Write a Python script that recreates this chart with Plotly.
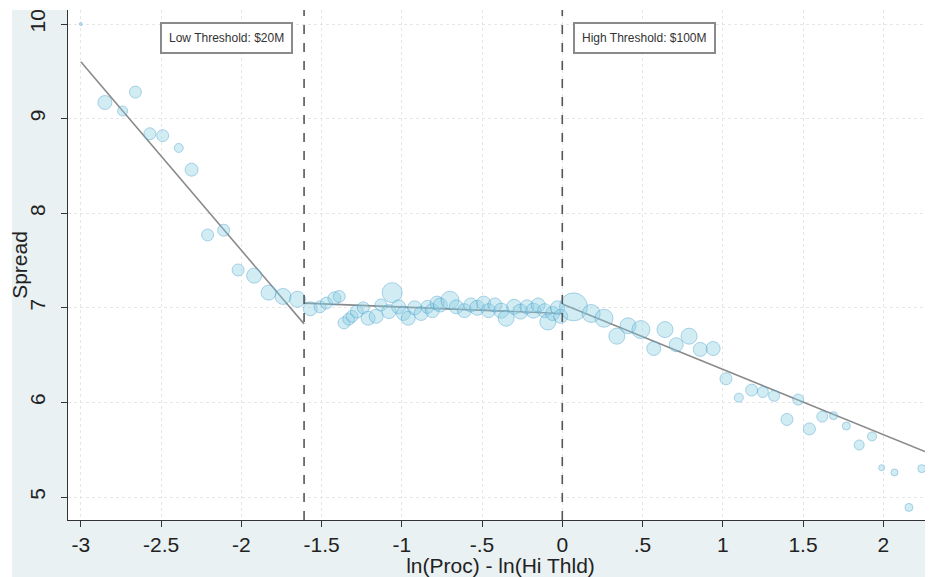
import plotly.graph_objects as go

# ---- data ----
low_x = [-3.00, -2.85, -2.74, -2.66, -2.57, -2.49, -2.39, -2.31, -2.21, -2.11,
         -2.02, -1.92, -1.83, -1.74, -1.65]
low_y = [10.00, 9.17, 9.08, 9.28, 8.84, 8.82, 8.69, 8.46, 7.77, 7.82,
         7.40, 7.34, 7.16, 7.12, 7.09]
low_w = [3, 14, 10, 12, 12, 12, 9, 13, 12, 12, 12, 15, 15, 16, 16]

mid_x = [-1.57, -1.51, -1.47, -1.42, -1.39, -1.36, -1.33, -1.31, -1.28, -1.24,
         -1.21, -1.16, -1.13, -1.06, -1.08, -1.02, -0.99, -0.96, -0.92, -0.88,
         -0.84, -0.81, -0.78, -0.76, -0.70, -0.66, -0.61, -0.57, -0.53, -0.49,
         -0.46, -0.42, -0.38, -0.35, -0.30, -0.26, -0.22, -0.18, -0.15, -0.11,
         -0.09, -0.06, -0.03, -0.01]
mid_y = [6.99, 7.01, 7.05, 7.10, 7.12, 6.84, 6.88, 6.91, 6.96, 7.00,
         6.89, 6.91, 7.03, 7.16, 6.96, 7.01, 6.94, 6.89, 7.00, 6.94,
         7.01, 6.97, 7.05, 7.03, 7.08, 7.01, 6.97, 7.03, 7.00, 7.05,
         6.97, 7.03, 6.97, 6.89, 7.01, 6.96, 7.01, 6.97, 7.03, 6.97,
         6.85, 6.94, 7.00, 6.91]
mid_w = [14, 12, 12, 13, 12, 12, 12, 12, 13, 12,
         14, 14, 12, 20, 14, 14, 14, 14, 14, 14,
         13, 14, 14, 14, 18, 14, 14, 14, 15, 14,
         14, 14, 15, 16, 15, 15, 14, 15, 14, 14,
         16, 14, 14, 14]

high_x = [0.07, 0.18, 0.26, 0.34, 0.41, 0.49, 0.57, 0.64, 0.71, 0.79,
          0.86, 0.94, 1.02, 1.10, 1.18, 1.25, 1.32, 1.40, 1.47, 1.54,
          1.62, 1.69, 1.77, 1.85, 1.93, 1.99, 2.07, 2.16, 2.24]
high_y = [7.01, 6.94, 6.89, 6.70, 6.81, 6.77, 6.57, 6.77, 6.61, 6.70,
          6.56, 6.57, 6.25, 6.05, 6.13, 6.11, 6.07, 5.82, 6.03, 5.72,
          5.85, 5.86, 5.75, 5.55, 5.64, 5.31, 5.26, 4.89, 5.30]
high_w = [28, 18, 18, 16, 16, 18, 14, 16, 14, 16,
          14, 14, 12, 9, 12, 11, 11, 12, 11, 12,
          11, 8, 8, 10, 9, 6, 7, 8, 8]

fit_low_x = [-3.00, -1.609]
fit_low_y = [9.60, 6.83]
fit_mid_x = [-1.609, 0.0]
fit_mid_y = [7.05, 6.94]
fit_high_x = [0.0, 2.26]
fit_high_y = [7.04, 5.48]

thresholds = [-1.609, 0.0]
threshold_labels = ["Low Threshold: $20M", "High Threshold: $100M"]
label_x = [-2.09, 0.51]

x_ticks = [-3, -2.5, -2, -1.5, -1, -0.5, 0, 0.5, 1, 1.5, 2]
x_tick_text = ["-3", "-2.5", "-2", "-1.5", "-1", "-.5", "0", ".5", "1", "1.5", "2"]
y_ticks = [5, 6, 7, 8, 9, 10]
y_tick_text = ["5", "6", "7", "8", "9", "10"]

FONT = "Liberation Sans Narrow, Liberation Sans, Arial, sans-serif"

# figure sits at an 8px page offset; sizes below account for that
W, H = 925, 569
ML, MR, MT, MB = 60, 0, 2, 57
PW, PH = W - ML - MR, H - MT - MB

fig = go.Figure()

for fx, fy in [(fit_low_x, fit_low_y), (fit_mid_x, fit_mid_y), (fit_high_x, fit_high_y)]:
    fig.add_trace(go.Scatter(x=fx, y=fy, mode="lines",
                             line=dict(color="#8a8a8a", width=1.6),
                             showlegend=False, hoverinfo="skip"))

all_x = low_x + mid_x + high_x
all_y = low_y + mid_y + high_y
all_w = low_w + mid_w + high_w
fig.add_trace(go.Scatter(
    x=all_x, y=all_y, mode="markers",
    marker=dict(size=all_w, color="rgba(140,205,228,0.55)",
                line=dict(color="rgba(60,155,200,0.6)", width=1)),
    showlegend=False))

for t in thresholds:
    fig.add_vline(x=t, line=dict(color="#555555", width=1.6, dash="dash"))

for lx, txt in zip(label_x, threshold_labels):
    fig.add_annotation(x=lx, y=9.85, xref="x", yref="y", text=txt, showarrow=False,
                       font=dict(family="Liberation Sans, Arial", size=12, color="#333333"),
                       bgcolor="white", bordercolor="#8a8a8a", borderwidth=2, borderpad=7)

# white outer strips (top and left) seen in reference
fig.add_shape(type="rect", xref="paper", yref="paper",
              x0=-ML/PW, x1=(4 - ML)/PW, y0=-MB/PH, y1=1 + MT/PH,
              fillcolor="white", line_width=0, layer="below")
fig.add_shape(type="rect", xref="paper", yref="paper",
              x0=-ML/PW, x1=1, y0=1, y1=1 + MT/PH,
              fillcolor="white", line_width=0, layer="below")

axis_common = dict(showline=True, linecolor="#333333", linewidth=1.2,
                   ticks="outside", ticklen=6, tickcolor="#333333", tickwidth=1.2,
                   showgrid=True, gridcolor="#e6e6e6", griddash="dot", gridwidth=1,
                   zeroline=False, mirror=False, automargin=False)

fig.update_xaxes(range=[-3.08, 2.31], tickvals=x_ticks, ticktext=x_tick_text,
                 tickfont=dict(family=FONT, size=21, color="#222"),
                 title=dict(text="ln(Proc) - ln(Hi Thld)", standoff=0,
                            font=dict(family=FONT, size=21, color="#222")),
                 **axis_common)
fig.update_yaxes(range=[4.757, 10.148], tickvals=y_ticks, ticktext=y_tick_text,
                 tickangle=-90, ticklabelstandoff=8,
                 tickfont=dict(family=FONT, size=21, color="#222"),
                 title=dict(text="Spread", standoff=0,
                            font=dict(family=FONT, size=21, color="#222")),
                 **axis_common)

fig.update_layout(width=W, height=H,
                  margin=dict(l=ML, r=MR, t=MT, b=MB),
                  paper_bgcolor="#e9f1f3", plot_bgcolor="white",
                  showlegend=False)

fig.write_html("out.html")
